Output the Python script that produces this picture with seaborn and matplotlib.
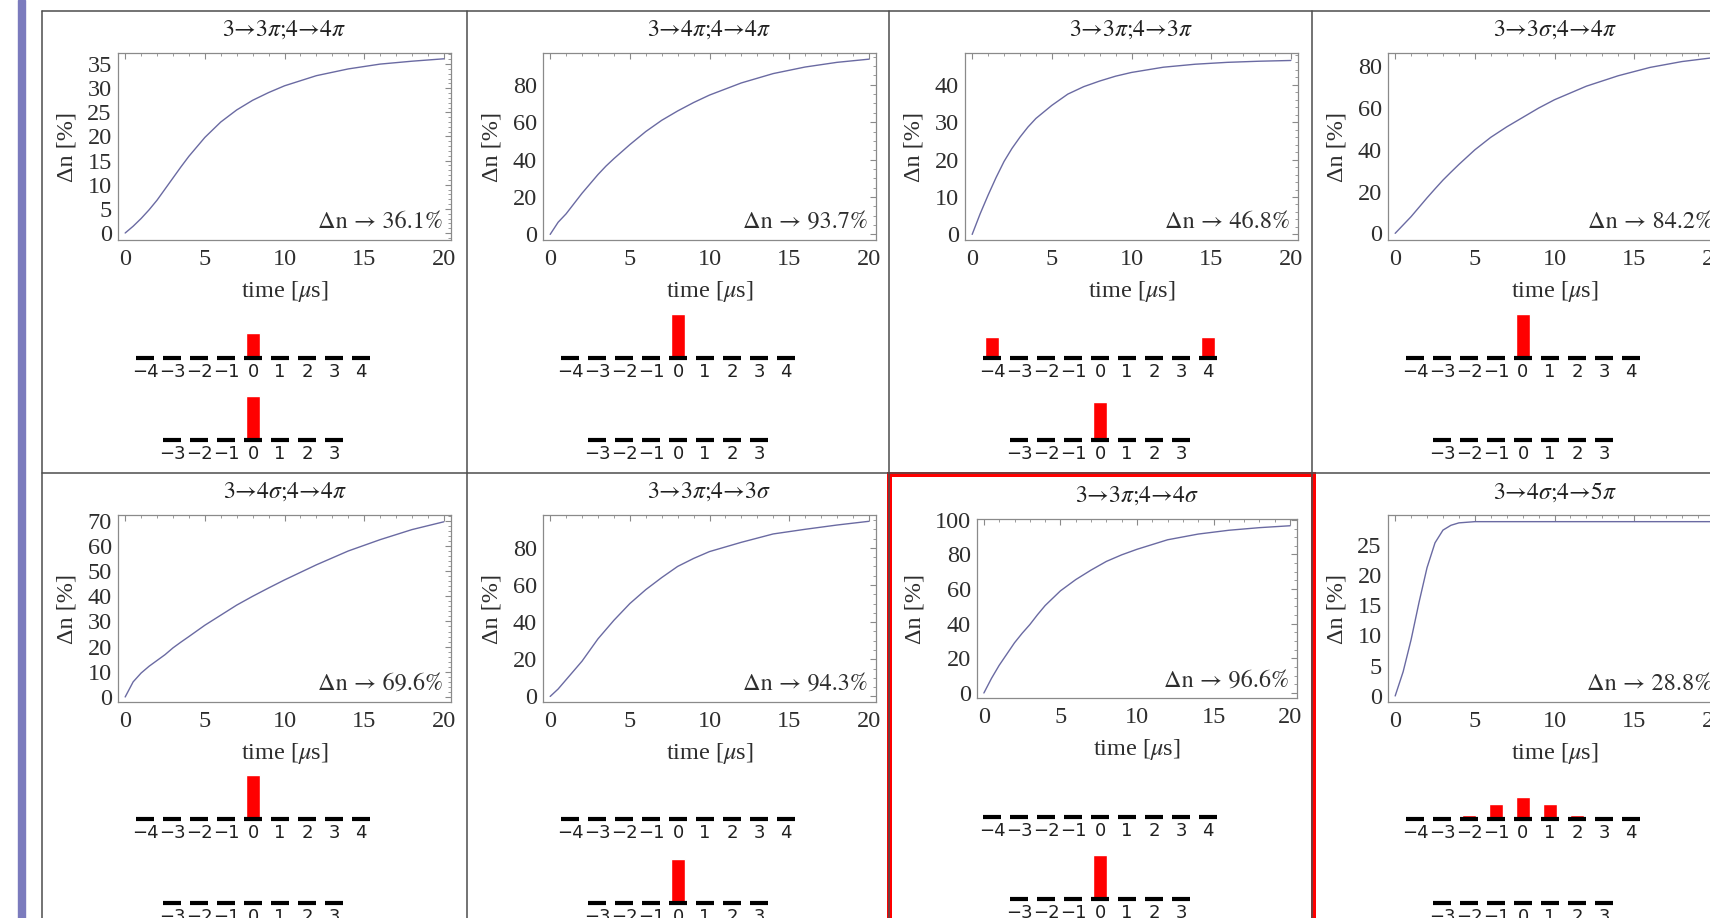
import numpy as np
import pandas as pd
import seaborn as sns
import matplotlib.pyplot as plt
from matplotlib.patches import Rectangle
from matplotlib.lines import Line2D
from matplotlib.ticker import MultipleLocator

W, H = 1710, 918

# time grid the curves were read at (microseconds)
time_us = [0, 0.5, 1, 1.5, 2, 2.5, 3, 3.5, 4, 5, 6, 7, 8, 9, 10, 12, 14, 16, 18, 20]

# population transfer (%) for each pumping scheme
dn_33pi_44pi = [0, 1.4, 3.0, 4.8, 6.8, 9.1, 11.4, 13.7, 15.9, 19.8, 23.0, 25.5, 27.5, 29.1, 30.5, 32.6, 34.0, 35.0, 35.6, 36.1]
dn_34pi_44pi = [0, 6.5, 11, 16.5, 22, 27, 32, 36.5, 40.5, 48, 55, 61, 66, 70.5, 74.5, 81, 86, 89.5, 92, 93.7]
dn_33pi_43pi = [0, 5.5, 10.5, 15.2, 19.5, 23, 26, 28.7, 31, 34.5, 37.5, 39.5, 41, 42.3, 43.3, 44.7, 45.5, 46, 46.3, 46.5]
dn_33sig_44pi = [0, 4, 8, 12.5, 17, 21.3, 25.5, 29.3, 33, 40, 46, 51, 55.5, 60, 64, 70.5, 75.5, 79.5, 82.3, 84.2]
dn_34sig_44pi = [0, 6, 9.5, 12.2, 14.5, 16.8, 19.5, 21.8, 24, 28.5, 32.5, 36.5, 40, 43.3, 46.5, 52.5, 58, 62.5, 66.5, 69.6]
dn_33pi_43sig = [0, 4, 9, 14, 19, 25, 31, 36, 41, 50, 57.5, 64, 70, 74.3, 78, 83, 87.5, 90, 92.3, 94.3]
dn_33pi_44sig = [0, 8.5, 16, 22.5, 29, 34.5, 39.5, 45.2, 50.5, 59, 65.5, 71, 76, 79.8, 83, 88.5, 91.8, 94, 95.5, 96.6]
dn_34sig_45pi = [0, 4.0, 9.3, 15.5, 21.2, 25.3, 27.4, 28.2, 28.6, 28.8, 28.8, 28.8, 28.8, 28.8, 28.8, 28.8, 28.8, 28.8, 28.8, 28.8]

curves = [dn_33pi_44pi, dn_34pi_44pi, dn_33pi_43pi, dn_33sig_44pi,
          dn_34sig_44pi, dn_33pi_43sig, dn_33pi_44sig, dn_34sig_45pi]

titles = ["3→3$\\pi$;4→4$\\pi$", "3→4$\\pi$;4→4$\\pi$", "3→3$\\pi$;4→3$\\pi$", "3→3$\\sigma$;4→4$\\pi$",
          "3→4$\\sigma$;4→4$\\pi$", "3→3$\\pi$;4→3$\\sigma$", "3→3$\\pi$;4→4$\\sigma$", "3→4$\\sigma$;4→5$\\pi$"]
final_pct = ["36.1", "93.7", "46.8", "84.2", "69.6", "94.3", "96.6", "28.8"]

ytop = [35, 80, 40, 80, 70, 80, 100, 25]
ystep = [5, 20, 10, 20, 10, 20, 20, 5]
ylo = [-1.45, -3, -1.5, -3.2, -2, -3, -2.9, -1]
yhi = [37.3, 97, 48.5, 86.4, 72.3, 97.7, 100.5, 29.9]

# Zeeman sublevel populations (F=4 upper row, F=3 lower row)
levels_f4 = [-4, -3, -2, -1, 0, 1, 2, 3, 4]
levels_f3 = [-3, -2, -1, 0, 1, 2, 3]
pop_f4 = [
    [0, 0, 0, 0, 0.57, 0, 0, 0, 0],
    [0, 0, 0, 0, 1.0, 0, 0, 0, 0],
    [0.48, 0, 0, 0, 0, 0, 0, 0, 0.48],
    [0, 0, 0, 0.03, 1.0, 0.03, 0, 0, 0],
    [0, 0, 0, 0.06, 1.0, 0.06, 0, 0, 0],
    [0, 0, 0, 0, 0, 0, 0, 0, 0],
    [0, 0, 0, 0, 0, 0, 0, 0, 0],
    [0, 0, 0.08, 0.35, 0.5, 0.35, 0.08, 0, 0],
]
pop_f3 = [
    [0, 0, 0, 1.0, 0, 0, 0],
    [0, 0, 0, 0, 0, 0, 0],
    [0, 0, 0, 0.86, 0, 0, 0],
    [0, 0, 0, 0, 0, 0, 0],
    [0, 0, 0, 0, 0, 0, 0],
    [0, 0, 0, 1.0, 0, 0, 0],
    [0, 0, 0, 1.0, 0, 0, 0],
    [0, 0, 0, 0, 0, 0, 0],
]

sns.set_style("white")
plt.rcParams["font.family"] = ["Liberation Serif", "DejaVu Serif"]
plt.rcParams["mathtext.fontset"] = "stix"
TIMES = ["STIXGeneral", "Liberation Serif", "DejaVu Serif"]

CURVE = "#6a6aa2"
FRAME = "#8a8a8a"
TXT = "#2e2e2e"

fig = plt.figure(figsize=(W / 100, H / 100), dpi=100)


def px_axes(left, top, right, bottom):
    return fig.add_axes([left / W, 1 - bottom / H, (right - left) / W, (bottom - top) / H])


# layout of the grid cells (pixels)
cell_left = [42, 467, 889, 1312] * 2
cell_top = [11] * 4 + [473] * 4
cell_w = 422


def level_diagram(xc, y_line, levels, pops):
    n = len(levels)
    unit = 44
    ax = px_axes(xc - n * 27 / 2, y_line - 1.08 * unit, xc + n * 27 / 2, y_line + 0.12 * unit)
    df = pd.DataFrame({"m": levels, "pop": pops})
    sns.barplot(data=df, x="m", y="pop", order=levels, color="red", saturation=1,
                width=0.5, errorbar=None, ax=ax)
    idx = np.arange(n)
    ax.hlines(np.zeros(n), idx - 0.33, idx + 0.33, color="black", lw=3, zorder=3, clip_on=False)
    ax.set_xlim(-0.5, n - 0.5)
    ax.set_ylim(-0.12, 1.08)
    ax.set_xticks(idx, [str(m).replace("-", "\u2212") for m in levels])
    ax.set_yticks([])
    ax.set_xlabel("")
    ax.set_ylabel("")
    ax.tick_params(axis="x", length=0, pad=0, labelsize=13, labelcolor="#202020")
    for lab in ax.get_xticklabels():
        lab.set_fontfamily("DejaVu Sans")
    sns.despine(ax=ax, left=True, bottom=True)
    ax.patch.set_alpha(0)


for i in range(8):
    cl, ct = cell_left[i], cell_top[i]
    if i == 6:
        l, t, r, b = 977, 519, 1297, 698
        ylab_x = 915
        upper_y, lower_y = 817, 899
    else:
        l, t, r, b = cl + 76, ct + 42, cl + 409, ct + 229
        ylab_x = cl + 25
        upper_y = ct + (347 if i < 4 else 346)
        lower_y = ct + (429 if i < 4 else 430)
    ax = px_axes(l, t, r, b)
    sns.lineplot(x=time_us, y=curves[i], ax=ax, color=CURVE, lw=1.0)
    ax.set_xlim(-0.45, 20.45)
    ax.set_ylim(ylo[i], yhi[i])
    ax.set_xticks(range(0, 21, 5))
    ax.set_yticks(range(0, ytop[i] + 1, ystep[i]))
    ax.xaxis.set_minor_locator(MultipleLocator(1))
    ax.yaxis.set_minor_locator(MultipleLocator(ystep[i] / (4 if ystep[i] == 20 else 5)))
    ax.tick_params(which="both", direction="in", top=True, right=True, color=FRAME,
                   labelsize=17.5, labelcolor=TXT)
    ax.tick_params(axis="x", pad=6.5)
    ax.tick_params(axis="y", pad=4.5)
    ax.tick_params(which="major", length=4, width=0.8)
    ax.tick_params(which="minor", length=2, width=0.6)
    for s in ax.spines.values():
        s.set_color(FRAME)
        s.set_linewidth(0.9)
    h = b - t
    ax.set_title(titles[i], y=1 + 23 / h, pad=0, va="center", fontsize=17,
                 color="#202020", family=TIMES)
    ax.set_xlabel("time [$\\mu$s]", fontsize=17.5, color=TXT, va="center")
    ax.xaxis.set_label_coords(0.5, -51 / h)
    ax.set_ylabel("Δn [%]", fontsize=17.5, color=TXT, va="center")
    ax.yaxis.set_label_coords((ylab_x - l) / (r - l), 0.5)
    ax.text(0.975, 0.095, "Δn → " + final_pct[i] + "%", transform=ax.transAxes,
            ha="right", va="center", fontsize=17.5, color=TXT, family=TIMES)

    xc = cl + cell_w / 2
    level_diagram(xc, upper_y, levels_f4, pop_f4[i])
    level_diagram(xc, lower_y, levels_f3, pop_f3[i])

# grid frame of the panel table
deco = "#4d4d4d"
for x in [42, 467, 889, 1312]:
    fig.add_artist(Line2D([x / W, x / W], [1 - 11 / H, 0], color=deco, lw=1.1, transform=fig.transFigure))
for y in [11, 473]:
    fig.add_artist(Line2D([42 / W, 1], [1 - y / H, 1 - y / H], color=deco, lw=1.1, transform=fig.transFigure))

# slide margin bar and highlight box
fig.add_artist(Rectangle((18 / W, 0), 7 / W, 1, color="#7b7bbd", transform=fig.transFigure))
fig.add_artist(Rectangle((889 / W, -0.05), (1313 - 889) / W, 1 - 474 / H + 0.05, fill=False,
                         ec="#ff0000", lw=3.6, transform=fig.transFigure))

fig.savefig("out.png", dpi=100)
